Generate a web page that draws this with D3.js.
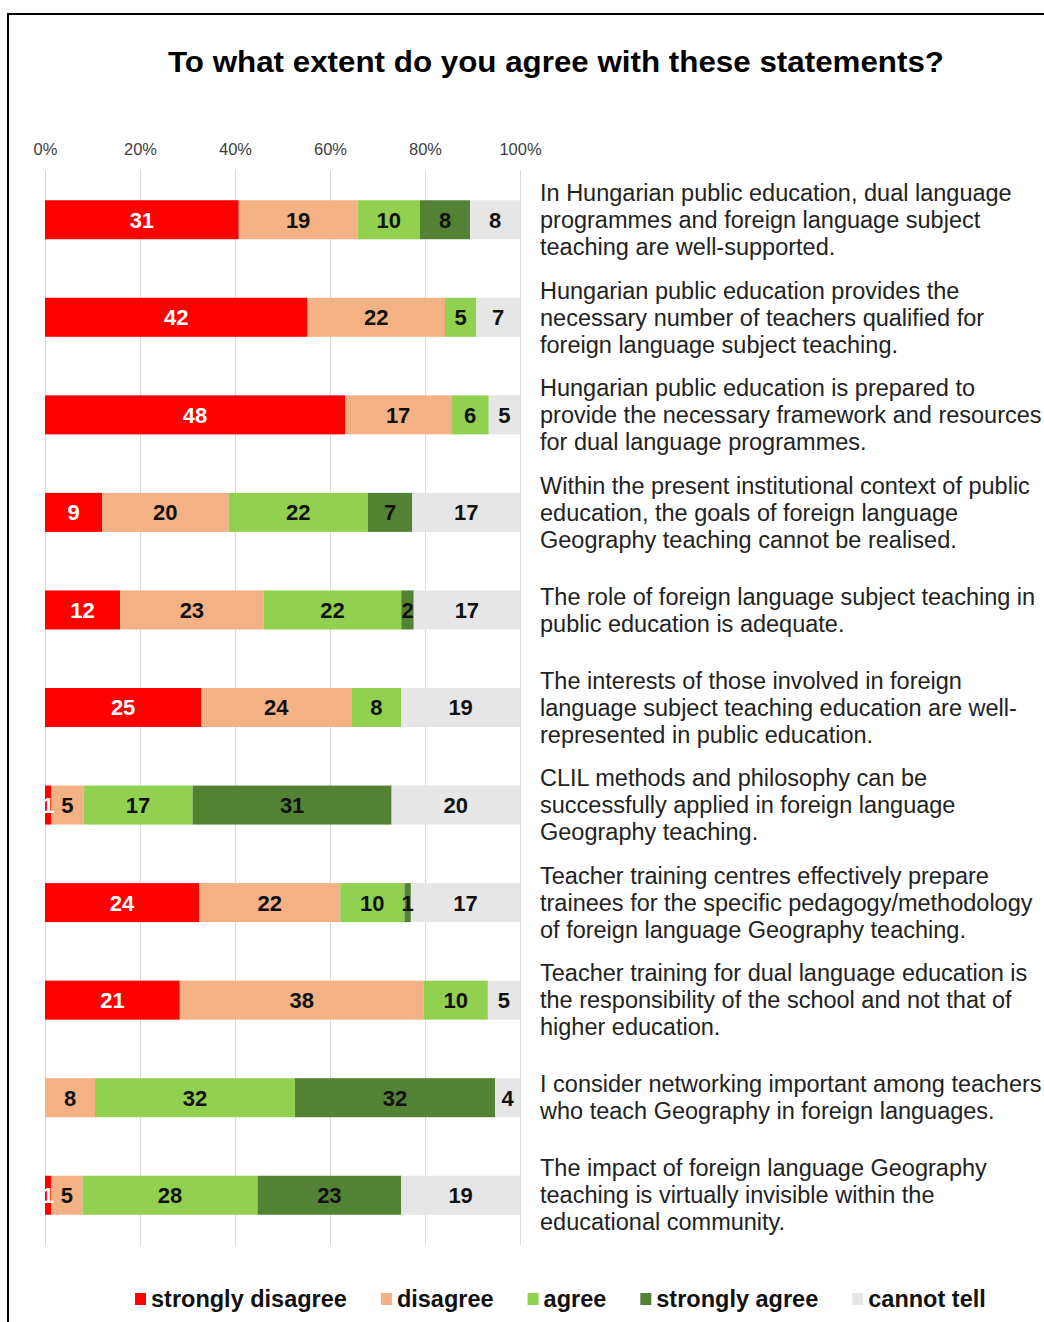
<!DOCTYPE html>
<html>
<head>
<meta charset="utf-8">
<script src="https://cdn.jsdelivr.net/npm/d3@7"></script>
<style>
  body { margin: 0; background: #fff; }
  svg { display: block; font-family: "Liberation Sans", Arial, sans-serif; }
</style>
</head>
<body>
<svg id="chart" width="1044" height="1322"></svg>
<script>
// statements, one entry per bar (line breaks as in the source)
const statements = [
  ["In Hungarian public education, dual language", "programmes and foreign language subject", "teaching are well-supported."],
  ["Hungarian public education provides the", "necessary number of teachers qualified for", "foreign language subject teaching."],
  ["Hungarian public education is prepared to", "provide the necessary framework and resources", "for dual language programmes."],
  ["Within the present institutional context of public", "education, the goals of foreign language", "Geography teaching cannot be realised."],
  ["The role of foreign language subject teaching in", "public education is adequate."],
  ["The interests of those involved in foreign", "language subject teaching education are well-", "represented in public education."],
  ["CLIL methods and philosophy can be", "successfully applied in foreign language", "Geography teaching."],
  ["Teacher training centres effectively prepare", "trainees for the specific pedagogy/methodology", "of foreign language Geography teaching."],
  ["Teacher training for dual language education is", "the responsibility of the school and not that of", "higher education."],
  ["I consider networking important among teachers", "who teach Geography in foreign languages."],
  ["The impact of foreign language Geography", "teaching is virtually invisible within the", "educational community."]
];

const series_names = ["strongly disagree", "disagree", "agree", "strongly agree", "cannot tell"];
const series_colors = ["#ff0000", "#f4b183", "#92d050", "#548235", "#e7e6e6"];

const strongly_disagree = [31, 42, 48, 9, 12, 25, 1, 24, 21, 0, 1];
const disagree = [19, 22, 17, 20, 23, 24, 5, 22, 38, 8, 5];
const agree = [10, 5, 6, 22, 22, 8, 17, 10, 10, 32, 28];
const strongly_agree = [8, 0, 0, 7, 2, 0, 31, 1, 0, 32, 23];
const cannot_tell = [8, 7, 5, 17, 17, 19, 20, 17, 5, 4, 19];

const x_ticks = [0, 0.2, 0.4, 0.6, 0.8, 1];

const font = "'Liberation Sans', Arial, sans-serif";

const table = statements.map((s, i) => ({
  index: i,
  "strongly disagree": strongly_disagree[i],
  "disagree": disagree[i],
  "agree": agree[i],
  "strongly agree": strongly_agree[i],
  "cannot tell": cannot_tell[i],
}));

const svg = d3.select("#chart");

// frame
svg.append("path")
  .attr("d", "M8,1322 V14 H1044")
  .attr("fill", "none")
  .attr("stroke", "#000")
  .attr("stroke-width", 2);

svg.append("text")
  .attr("x", 556)
  .attr("y", 72)
  .attr("text-anchor", "middle")
  .attr("font-size", 29)
  .attr("font-weight", "bold")
  .attr("fill", "#000")
  .attr("textLength", 776)
  .attr("lengthAdjust", "spacingAndGlyphs")
  .text("To what extent do you agree with these statements?");

const x = d3.scaleLinear().domain([0, 1]).range([45, 520]);
const y = d3.scaleBand()
  .domain(d3.range(statements.length))
  .range([170, 1245])
  .paddingInner(0.6)
  .paddingOuter(0.31);
const color = d3.scaleOrdinal().domain(series_names).range(series_colors);

// axis + gridlines
const axis = svg.append("g")
  .attr("transform", "translate(0,170)")
  .call(d3.axisTop(x)
    .tickValues(x_ticks)
    .tickFormat(d3.format(".0%"))
    .tickSizeInner(-(1245 - 170))
    .tickSizeOuter(0)
    .tickPadding(15));
axis.select(".domain").remove();
axis.selectAll(".tick line").attr("stroke", "#d9d9d9");
axis.selectAll(".tick text")
  .attr("font-family", font)
  .attr("font-size", 16.5)
  .attr("fill", "#404040");

// stacked bars, each row scaled to 100%
const stacked = d3.stack().keys(series_names).offset(d3.stackOffsetExpand)(table);

const layer = svg.append("g")
  .selectAll("g")
  .data(stacked)
  .join("g")
  .attr("fill", (d) => color(d.key));

layer.selectAll("rect")
  .data((d) => d)
  .join("rect")
  .attr("x", (d) => x(d[0]))
  .attr("y", (d) => y(d.data.index))
  .attr("width", (d) => x(d[1]) - x(d[0]))
  .attr("height", y.bandwidth());

// value labels
svg.append("g")
  .selectAll("g")
  .data(stacked)
  .join("g")
  .attr("fill", (d) => (d.key === "strongly disagree" ? "#fff" : "#111"))
  .selectAll("text")
  .data((d) => d.map((v) => Object.assign(v, { key: d.key })).filter((v) => v.data[d.key] > 0))
  .join("text")
  .attr("x", (d) => (x(d[0]) + x(d[1])) / 2)
  .attr("y", (d) => y(d.data.index) + y.bandwidth() / 2)
  .attr("dy", "0.36em")
  .attr("text-anchor", "middle")
  .attr("font-family", font)
  .attr("font-size", 22)
  .attr("font-weight", "bold")
  .text((d) => d.data[d.key]);

// statement texts on the right
const line_height = 27;
svg.append("g")
  .selectAll("text")
  .data(statements)
  .join("text")
  .attr("x", 540)
  .attr("y", (s, i) => y(i) + y.bandwidth() / 2 - ((s.length - 1) * line_height) / 2)
  .attr("font-family", font)
  .attr("font-size", 23.5)
  .attr("fill", "#222")
  .each(function (s) {
    d3.select(this)
      .selectAll("tspan")
      .data(s)
      .join("tspan")
      .attr("x", 540)
      .attr("dy", (l, j) => (j === 0 ? "0.35em" : line_height))
      .text((l) => l);
  });

// legend
const legend = svg.append("g").attr("transform", "translate(0,1299)");
let lx = 135;
series_names.forEach((name) => {
  legend.append("rect")
    .attr("x", lx)
    .attr("y", -6)
    .attr("width", 11)
    .attr("height", 12)
    .attr("fill", color(name));
  const t = legend.append("text")
    .attr("x", lx + 16)
    .attr("y", 0)
    .attr("dy", "0.36em")
    .attr("font-family", font)
    .attr("font-size", 23.5)
    .attr("font-weight", "bold")
    .attr("fill", "#111")
    .text(name);
  lx = lx + 16 + t.node().getComputedTextLength() + 34;
});
</script>
</body>
</html>
